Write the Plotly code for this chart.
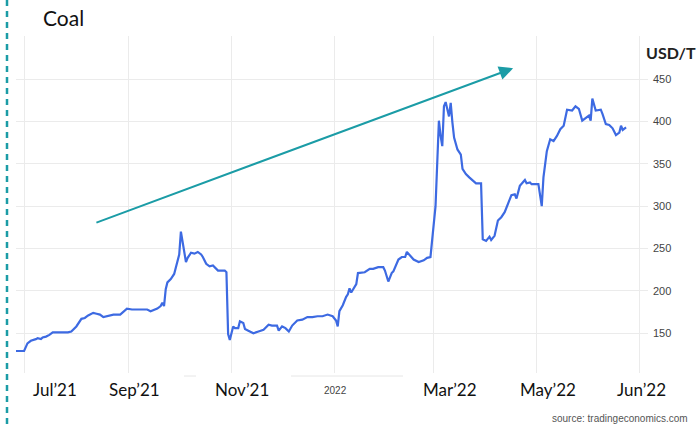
import plotly.graph_objects as go

# Coal price, USD per tonne
dates = [
    "2021-06-26", "2021-07-01", "2021-07-03", "2021-07-05", "2021-07-08", "2021-07-09",
    "2021-07-11", "2021-07-12", "2021-07-14", "2021-07-16", "2021-07-18", "2021-07-27",
    "2021-07-29", "2021-08-01", "2021-08-04", "2021-08-06", "2021-08-08", "2021-08-11",
    "2021-08-13", "2021-08-15", "2021-08-17", "2021-08-19", "2021-08-23", "2021-08-27",
    "2021-08-29", "2021-08-31", "2021-09-03", "2021-09-12", "2021-09-14", "2021-09-18",
    "2021-09-20", "2021-09-21", "2021-09-22", "2021-09-23", "2021-09-24", "2021-09-26",
    "2021-09-28", "2021-09-29", "2021-10-01", "2021-10-02", "2021-10-04", "2021-10-05",
    "2021-10-06", "2021-10-08", "2021-10-10", "2021-10-12", "2021-10-14", "2021-10-15",
    "2021-10-17", "2021-10-18", "2021-10-19", "2021-10-21", "2021-10-22", "2021-10-24",
    "2021-10-28", "2021-10-29", "2021-10-30", "2021-10-31", "2021-11-02", "2021-11-03",
    "2021-11-05", "2021-11-06", "2021-11-08", "2021-11-09", "2021-11-11", "2021-11-14",
    "2021-11-17", "2021-11-20", "2021-11-23", "2021-11-25", "2021-11-28", "2021-11-29",
    "2021-12-01", "2021-12-03", "2021-12-05", "2021-12-07", "2021-12-10", "2021-12-13",
    "2021-12-16", "2021-12-19", "2021-12-22", "2021-12-25", "2021-12-28", "2021-12-31",
    "2022-01-02", "2022-01-03", "2022-01-04", "2022-01-06", "2022-01-08", "2022-01-09",
    "2022-01-10", "2022-01-11", "2022-01-14", "2022-01-15", "2022-01-19", "2022-01-22",
    "2022-01-24", "2022-01-27", "2022-01-30", "2022-01-31", "2022-02-02", "2022-02-04",
    "2022-02-05", "2022-02-08", "2022-02-10", "2022-02-12", "2022-02-13", "2022-02-15",
    "2022-02-17", "2022-02-20", "2022-02-23", "2022-02-25", "2022-02-27", "2022-03-02",
    "2022-03-03", "2022-03-04", "2022-03-05", "2022-03-06", "2022-03-07", "2022-03-08",
    "2022-03-10", "2022-03-11", "2022-03-12", "2022-03-13", "2022-03-15", "2022-03-17",
    "2022-03-18", "2022-03-20", "2022-03-22", "2022-03-24", "2022-03-26", "2022-03-29",
    "2022-03-30", "2022-04-01", "2022-04-03", "2022-04-04", "2022-04-06", "2022-04-08",
    "2022-04-10", "2022-04-12", "2022-04-14", "2022-04-16", "2022-04-18", "2022-04-19",
    "2022-04-21", "2022-04-24", "2022-04-25", "2022-04-27", "2022-04-28", "2022-05-02",
    "2022-05-04", "2022-05-05", "2022-05-07", "2022-05-09", "2022-05-11", "2022-05-13",
    "2022-05-15", "2022-05-17", "2022-05-19", "2022-05-22", "2022-05-24", "2022-05-26",
    "2022-05-28", "2022-05-30", "2022-06-01", "2022-06-02", "2022-06-03", "2022-06-05",
    "2022-06-08", "2022-06-09", "2022-06-11", "2022-06-13", "2022-06-15", "2022-06-17",
    "2022-06-19", "2022-06-20", "2022-06-21", "2022-06-23",
]
prices = [
    129, 129, 138, 141, 143, 144,
    143, 145, 146, 148, 151, 151,
    152, 158, 167, 168, 171, 174,
    173, 172, 169, 170, 172, 172,
    175, 179, 178, 178, 176, 179,
    182, 186, 182, 202, 210, 214,
    220, 229, 243, 270, 245, 234,
    239, 245, 244, 246, 243, 240,
    232, 231, 229, 230, 228, 224,
    224, 222, 149, 142, 158, 156,
    156, 164, 162, 155, 153, 150,
    152, 154, 160, 159, 159, 153,
    158, 156, 152, 159, 165, 166,
    169, 169, 170, 170, 172, 170,
    165, 158, 176, 183, 193, 196,
    203, 198, 208, 221, 222, 226,
    226, 228, 228, 224, 211, 221,
    223, 237, 240, 240, 246, 241,
    237, 234, 236, 239, 240, 300,
    344, 401, 383, 371, 418, 423,
    406, 422, 399, 381, 367, 361,
    344, 338, 334, 330, 327, 327,
    261, 259, 264, 260, 265, 283,
    287, 293, 302, 313, 314, 309,
    324, 331, 327, 328, 326, 326,
    300, 334, 365, 379, 377, 383,
    391, 395, 414, 413, 418, 415,
    401, 404, 407, 401, 427, 413,
    414, 409, 397, 396, 392, 384,
    387, 395, 390, 393,
]

# Axis ticks and labels
grid_dates = ["2021-07-01", "2021-09-01", "2021-11-01", "2022-01-01",
              "2022-03-01", "2022-05-01", "2022-07-01"]
price_ticks = [150, 200, 250, 300, 350, 400, 450, 500]
price_ticktext = ["150", "200", "250", "300", "350", "400", "450", ""]
month_labels = ["Jul’21", "Sep’21", "Nov’21", "Mar’22", "May’22", "Jun’22"]
year_label = "2022"

# Trend arrow (tail -> head) in data units
trend_start = ("2021-08-12", 280)
trend_end = ("2022-04-17", 463)

W, H = 698, 426
L, R, T, B = 16, 50, 36, 53
PW, PH = W - L - R, H - T - B


def px_x(x):
    return (x - L) / PW


def px_y(y):
    return (H - B - y) / PH


TEAL = "#1b9ca6"
LINE_BLUE = "#3d6ae2"
GRID = "#ebebeb"

fig = go.Figure()
fig.add_trace(go.Scatter(
    x=dates, y=prices, mode="lines",
    line=dict(color=LINE_BLUE, width=2.2),
    hoverinfo="skip", showlegend=False,
))

fig.update_layout(
    width=W, height=H,
    margin=dict(l=L, r=R, t=T, b=B, pad=0),
    paper_bgcolor="white", plot_bgcolor="white",
    showlegend=False,
    xaxis=dict(
        type="date", range=["2021-06-26 05:00", "2022-07-06"],
        tickvals=grid_dates, showticklabels=False, ticks="",
        showgrid=True, gridcolor=GRID, gridwidth=1,
        zeroline=False, showline=False, fixedrange=True,
    ),
    yaxis=dict(
        side="right", range=[103, 501], tickvals=price_ticks, ticktext=price_ticktext,
        showgrid=True, gridcolor=GRID, gridwidth=1.3,
        ticks="", ticklabelstandoff=4,
        tickfont=dict(family="Liberation Sans, Arial", size=11, color="#444"),
        zeroline=False, showline=False, fixedrange=True,
    ),
)

annotations = []
# Title
annotations.append(dict(
    text="Coal", xref="paper", yref="paper", x=px_x(41), y=px_y(18),
    xanchor="left", yanchor="middle", showarrow=False,
    font=dict(family="Lato", size=21, color="#111"),
))
# Unit label
annotations.append(dict(
    text="<b>USD/T</b>", xref="paper", yref="paper", x=px_x(644), y=px_y(53),
    xanchor="left", yanchor="middle", showarrow=False,
    font=dict(family="Lato", size=16, color="#222"),
))
# Month labels below the plot
label_centers = [55, 134, 242, 450, 548, 641]
for text, cx in zip(month_labels, label_centers):
    annotations.append(dict(
        text=text, xref="paper", yref="paper", x=px_x(cx), y=px_y(389),
        xanchor="center", yanchor="middle", showarrow=False,
        font=dict(family="Lato", size=17, color="#111"),
    ))
annotations.append(dict(
    text=year_label, xref="paper", yref="paper", x=px_x(335), y=px_y(390),
    xanchor="center", yanchor="middle", showarrow=False,
    font=dict(family="Liberation Sans, Arial", size=10, color="#444"),
))
# Source line
annotations.append(dict(
    text="source: tradingeconomics.com", xref="paper", yref="paper",
    x=px_x(690), y=px_y(418), xanchor="right", yanchor="middle", showarrow=False,
    font=dict(family="Liberation Sans, Arial", size=10, color="#555"),
))
# Trend arrow
annotations.append(dict(
    text="", x=trend_end[0], y=trend_end[1], xref="x", yref="y",
    ax=trend_start[0], ay=trend_start[1], axref="x", ayref="y",
    showarrow=True, arrowhead=2, arrowsize=1.4, arrowwidth=2,
    arrowcolor=TEAL, standoff=0, startstandoff=0,
))
fig.update_layout(annotations=annotations)

shapes = [
    # Dashed divider on the left edge
    dict(type="line", xref="paper", yref="paper",
         x0=px_x(7), x1=px_x(7), y0=px_y(0), y1=px_y(H),
         line=dict(color=TEAL, width=2.5, dash="6px,5px")),
    # Remnants of the baseline between the labels
    dict(type="line", xref="paper", yref="paper",
         x0=px_x(184), x1=px_x(196), y0=px_y(376), y1=px_y(376),
         line=dict(color="#e6e6e6", width=1)),
    dict(type="line", xref="paper", yref="paper",
         x0=px_x(291), x1=px_x(403), y0=px_y(376), y1=px_y(376),
         line=dict(color="#e6e6e6", width=1)),
]
fig.update_layout(shapes=shapes)

fig.write_html("out.html")
